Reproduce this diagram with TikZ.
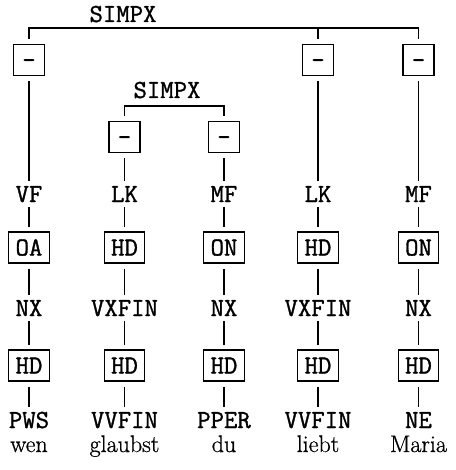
\documentclass[tikz,border=0pt]{standalone}
\usepackage{fontspec}
\newfontfamily\mytt[FakeBold=1.2]{Latin Modern Mono}
\newfontfamily\myrm[FakeBold=0.8]{Latin Modern Roman}
\begin{document}
\begin{tikzpicture}[x=1pt,y=-1pt,
  lbl/.style={font=\mytt\fontsize{26}{26}\selectfont, inner sep=0pt, text height=16pt, text depth=0pt, outer sep=5pt},
  fbox/.style={draw, line width=1.2pt, font=\mytt\fontsize{26}{26}\selectfont, inner xsep=7pt, inner ysep=0pt, minimum height=31pt, minimum width=31pt, text height=16pt, text depth=0pt, outer sep=5.5pt},
  word/.style={font=\myrm\fontsize{24}{24}\selectfont, inner sep=0pt, anchor=base},
  edge/.style={line width=1.2pt}]
\useasboundingbox (0,0) rectangle (455,470);
% top
\node[lbl] (s1) at (123,14) {SIMPX};
\coordinate (br1) at (29,28);
\node[fbox] (a1) at (29,60) {-};
\node[fbox] (a4) at (318,60) {-};
\node[fbox] (a5) at (418.5,60) {-};
\node[lbl] (s2) at (167,90) {SIMPX};
\coordinate (br2) at (124.5,106);
\node[fbox] (a2) at (124.5,137) {-};
\node[fbox] (a3) at (224,137) {-};
% categories
\node[lbl] (c1) at (29,194) {VF};
\node[lbl] (c2) at (124.5,194) {LK};
\node[lbl] (c3) at (224,194) {MF};
\node[lbl] (c4) at (318,194) {LK};
\node[lbl] (c5) at (418.5,194) {MF};
% functions
\node[fbox] (f1) at (29,247.5) {OA};
\node[fbox] (f2) at (124.5,247.5) {HD};
\node[fbox] (f3) at (224,247.5) {ON};
\node[fbox] (f4) at (318,247.5) {HD};
\node[fbox] (f5) at (418.5,247.5) {ON};
% phrases
\node[lbl] (p1) at (29,308) {NX};
\node[lbl] (p2) at (124.5,308) {VXFIN};
\node[lbl] (p3) at (224,308) {NX};
\node[lbl] (p4) at (318,308) {VXFIN};
\node[lbl] (p5) at (418.5,308) {NX};
% heads
\node[fbox] (h1) at (29,365.5) {HD};
\node[fbox] (h2) at (124.5,365.5) {HD};
\node[fbox] (h3) at (224,365.5) {HD};
\node[fbox] (h4) at (318,365.5) {HD};
\node[fbox] (h5) at (418.5,365.5) {HD};
% POS
\node[lbl] (t1) at (29,420) {PWS};
\node[lbl] (t2) at (124.5,420) {VVFIN};
\node[lbl] (t3) at (224,420) {PPER};
\node[lbl] (t4) at (318,420) {VVFIN};
\node[lbl] (t5) at (418.5,420) {NE};
% words
\node[word] (w1) at (29,452) {wen};
\node[word] (w2) at (124.5,452) {glaubst};
\node[word] (w3) at (224,452) {du};
\node[word] (w4) at (318,452) {liebt};
\node[word] (w5) at (418.5,452) {Maria};
% brackets
\draw[edge] (a1.north) -- (a1.north |- br1) -- (a5.north |- br1) -- (a5.north);
\draw[edge] (a4.north) -- (a4.north |- br1);
\draw[edge] (a2.north) -- (a2.north |- br2) -- (a3.north |- br2) -- (a3.north);
% vertical edges
\draw[edge] (a1.south) -- (c1.north);
\draw[edge] (a2.south) -- (c2.north);
\draw[edge] (a3.south) -- (c3.north);
\draw[edge] (a4.south) -- (c4.north);
\draw[edge] (a5.south) -- (c5.north);
\foreach \i in {1,...,5} {
  \draw[edge] (c\i.south) -- (f\i.north);
  \draw[edge] (f\i.south) -- (p\i.north);
  \draw[edge] (p\i.south) -- (h\i.north);
  \draw[edge] (h\i.south) -- (t\i.north);
}
\end{tikzpicture}
\end{document}
